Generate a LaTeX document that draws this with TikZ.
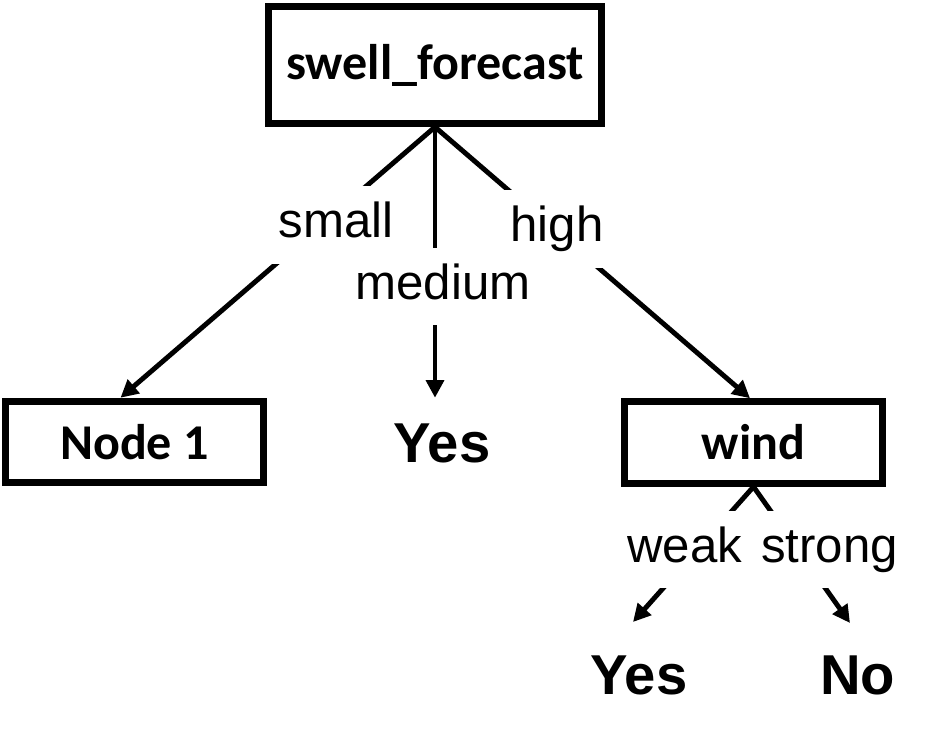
\documentclass[tikz,border=0pt]{standalone}
\usepackage{fontspec}
\setmainfont{Liberation Sans}
\newfontfamily\boxfont{Carlito}
\usetikzlibrary{arrows.meta}

\tikzset{
  split/.style={draw, line width=4pt, font=\boxfont\bfseries\fontsize{28.5}{34}\selectfont,
    minimum width=5.18cm, minimum height=1.63cm, inner sep=0pt},
  leaf/.style={font=\bfseries\fontsize{32}{38}\selectfont, inner sep=0pt},
  branch/.style={line width=2.8pt, -{Triangle[length=10pt,width=10pt]}},
  lab/.style={fill=white, font=\fontsize{28}{34}\selectfont, text height=20.4pt, text depth=5.9pt,
    inner xsep=4pt, inner ysep=8.8pt}
}

\begin{document}
\begin{tikzpicture}[x=0.02cm, y=-0.02cm]
\useasboundingbox (0,0) rectangle (933,747);
% tree nodes
\node[split, minimum width=6.66cm, minimum height=2.34cm] (root) at (435,65) {swell\_forecast};
\node[split] (n1) at (134.5,442) {Node 1};
\node[leaf] (yes1) at (442,443) {Yes};
\node[split] (wind) at (753.5,442.5) {wind};
\node[leaf] (yes2) at (639,675) {Yes};
\node[leaf] (no) at (857.5,675) {No};
\coordinate (weaktip) at (633,622);
\coordinate (strongtip) at (850,623);
% branches
\draw[branch] (root.south) -- node[lab, pos=0.362, xshift=0.3cm] {small} ([xshift=-0.28cm]n1.north);
\draw[branch] (root.south) -- node[lab, pos=0.59, xshift=0.16cm] {medium} (root.south |- n1.north);
\draw[branch] (root.south) -- node[lab, pos=0.376, xshift=0.07cm] {high} ([xshift=-0.07cm]wind.north);
\draw[branch] (wind.south) -- node[lab, pos=0.467, xshift=-0.25cm] {weak} (weaktip);
\draw[branch] (wind.south) -- node[lab, pos=0.463, xshift=0.63cm] {strong} (strongtip);
\end{tikzpicture}
\end{document}
